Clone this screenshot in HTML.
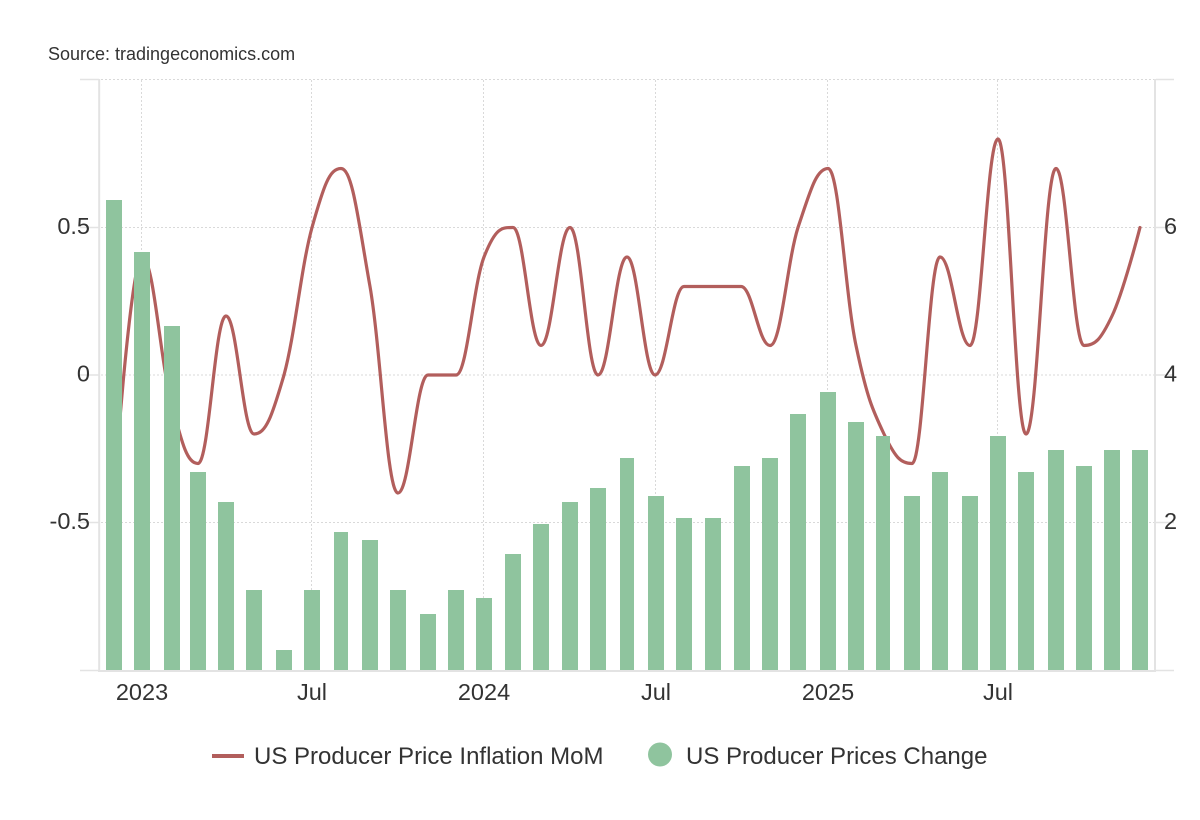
<!DOCTYPE html>
<html>
<head>
<meta charset="utf-8">
<style>
  html, body { margin: 0; padding: 0; background: #ffffff; }
  svg { display: block; }
  text { font-family: "Liberation Sans", Arial, sans-serif; fill: #333333; }
</style>
</head>
<body>
<svg width="1200" height="820" viewBox="0 0 1200 820" xmlns="http://www.w3.org/2000/svg">
  <rect x="0" y="0" width="1200" height="820" fill="#ffffff"/>

  <!-- Source -->
  <text x="48" y="60" font-size="18" fill="#444444">Source: tradingeconomics.com</text>

  <!-- horizontal dotted gridlines -->
  <g stroke="#d9d9d9" stroke-width="1" stroke-dasharray="2,2" fill="none">
    <line x1="101" y1="79.5" x2="1154" y2="79.5"/>
    <line x1="101" y1="227.5" x2="1154" y2="227.5"/>
    <line x1="101" y1="375" x2="1154" y2="375"/>
    <line x1="101" y1="522.5" x2="1154" y2="522.5"/>
  </g>
  <!-- vertical dotted gridlines -->
  <g stroke="#d9d9d9" stroke-width="1" stroke-dasharray="2,2" fill="none">
    <line x1="141.5" y1="80" x2="141.5" y2="670"/>
    <line x1="311.5" y1="80" x2="311.5" y2="670"/>
    <line x1="483.5" y1="80" x2="483.5" y2="670"/>
    <line x1="655.5" y1="80" x2="655.5" y2="670"/>
    <line x1="827.5" y1="80" x2="827.5" y2="670"/>
    <line x1="997.5" y1="80" x2="997.5" y2="670"/>
  </g>

  <!-- tick marks -->
  <g stroke="#e3e3e3" stroke-width="1.5" fill="none">
    <line x1="80" y1="79.5" x2="99" y2="79.5"/>
    <line x1="80" y1="227.5" x2="99" y2="227.5"/>
    <line x1="80" y1="375" x2="99" y2="375"/>
    <line x1="80" y1="522.5" x2="99" y2="522.5"/>
    <line x1="80" y1="670.5" x2="99" y2="670.5"/>
    <line x1="1156" y1="79.5" x2="1174" y2="79.5"/>
    <line x1="1156" y1="227.5" x2="1174" y2="227.5"/>
    <line x1="1156" y1="375" x2="1174" y2="375"/>
    <line x1="1156" y1="522.5" x2="1174" y2="522.5"/>
    <line x1="1156" y1="670.5" x2="1174" y2="670.5"/>
  </g>

  <!-- MoM spline line -->
  <path fill="none" stroke="#b25e5c" stroke-width="3.2" stroke-linejoin="round" stroke-linecap="round"
    d="M 114 493
       C 114 493, 130.8 257, 142 257
       C 154 257, 160 363.2, 172 404.5
       C 182.4 445.8, 187.6 463.5, 198 463.5
       C 209.2 463.5, 214.8 316, 226 316
       C 237.2 316, 242.8 434, 254 434
       C 266 434, 272 416.3, 284 375
       C 295.2 333.7, 300.8 268.8, 312 227.5
       C 323.6 186.2, 329.4 168.5, 341 168.5
       C 352.6 168.5, 358.4 221.6, 370 286.5
       C 381.2 351.4, 386.8 493, 398 493
       C 410 493, 416 375, 428 375
       C 439.2 375, 444.8 375, 456 375
       C 467.2 375, 472.8 286.5, 484 257
       C 495.6 227.5, 501.4 227.5, 513 227.5
       C 524.2 227.5, 529.8 345.5, 541 345.5
       C 552.6 345.5, 558.4 227.5, 570 227.5
       C 581.2 227.5, 586.8 375, 598 375
       C 609.6 375, 615.4 257, 627 257
       C 638.2 257, 643.8 375, 655 375
       C 666.6 375, 672.4 286.5, 684 286.5
       C 695.6 286.5, 701.4 286.5, 713 286.5
       C 724.2 286.5, 729.8 286.5, 741 286.5
       C 752.6 286.5, 758.4 345.5, 770 345.5
       C 781.2 345.5, 786.8 262.9, 798 227.5
       C 810 192.1, 816 168.5, 828 168.5
       C 839.2 168.5, 844.8 292.4, 856 345.5
       C 867.2 398.6, 872.8 410.4, 884 434
       C 895.2 457.6, 900.8 463.5, 912 463.5
       C 923.2 463.5, 928.8 257, 940 257
       C 952 257, 958 345.5, 970 345.5
       C 981.2 345.5, 986.8 139, 998 139
       C 1009.2 139, 1014.8 434, 1026 434
       C 1038 434, 1044 168.5, 1056 168.5
       C 1067.2 168.5, 1072.8 345.5, 1084 345.5
       C 1095.2 345.5, 1100.8 339.6, 1112 316
       C 1123.2 292.4, 1140 227.5, 1140 227.5"/>

  <!-- bars (drawn over the line) -->
  <g fill="#8fc49e">
    <rect x="106" y="200" width="16" height="470"/>
    <rect x="134" y="252" width="16" height="418"/>
    <rect x="164" y="326" width="16" height="344"/>
    <rect x="190" y="472" width="16" height="198"/>
    <rect x="218" y="502" width="16" height="168"/>
    <rect x="246" y="590" width="16" height="80"/>
    <rect x="276" y="650" width="16" height="20"/>
    <rect x="304" y="590" width="16" height="80"/>
    <rect x="334" y="532" width="14" height="138"/>
    <rect x="362" y="540" width="16" height="130"/>
    <rect x="390" y="590" width="16" height="80"/>
    <rect x="420" y="614" width="16" height="56"/>
    <rect x="448" y="590" width="16" height="80"/>
    <rect x="476" y="598" width="16" height="72"/>
    <rect x="505" y="554" width="16" height="116"/>
    <rect x="533" y="524" width="16" height="146"/>
    <rect x="562" y="502" width="16" height="168"/>
    <rect x="590" y="488" width="16" height="182"/>
    <rect x="620" y="458" width="14" height="212"/>
    <rect x="648" y="496" width="16" height="174"/>
    <rect x="676" y="518" width="16" height="152"/>
    <rect x="705" y="518" width="16" height="152"/>
    <rect x="734" y="466" width="16" height="204"/>
    <rect x="762" y="458" width="16" height="212"/>
    <rect x="790" y="414" width="16" height="256"/>
    <rect x="820" y="392" width="16" height="278"/>
    <rect x="848" y="422" width="16" height="248"/>
    <rect x="876" y="436" width="14" height="234"/>
    <rect x="904" y="496" width="16" height="174"/>
    <rect x="932" y="472" width="16" height="198"/>
    <rect x="962" y="496" width="16" height="174"/>
    <rect x="990" y="436" width="16" height="234"/>
    <rect x="1018" y="472" width="16" height="198"/>
    <rect x="1048" y="450" width="16" height="220"/>
    <rect x="1076" y="466" width="16" height="204"/>
    <rect x="1104" y="450" width="16" height="220"/>
    <rect x="1132" y="450" width="16" height="220"/>
  </g>

  <!-- axis lines -->
  <g stroke="#e3e3e3" stroke-width="2" fill="none">
    <line x1="99.2" y1="79" x2="99.2" y2="672"/>
    <line x1="1155" y1="79" x2="1155" y2="672"/>
    <line x1="98" y1="671" x2="1156" y2="671"/>
  </g>

  <!-- left y labels -->
  <g font-size="23.5" text-anchor="end">
    <text x="90" y="234">0.5</text>
    <text x="90" y="381.5">0</text>
    <text x="90" y="529">-0.5</text>
  </g>
  <!-- right y labels -->
  <g font-size="23.5" text-anchor="start">
    <text x="1164" y="234">6</text>
    <text x="1164" y="381.5">4</text>
    <text x="1164" y="529">2</text>
  </g>
  <!-- x labels -->
  <g font-size="23.5" text-anchor="middle">
    <text x="142" y="700">2023</text>
    <text x="312" y="700">Jul</text>
    <text x="484" y="700">2024</text>
    <text x="656" y="700">Jul</text>
    <text x="828" y="700">2025</text>
    <text x="998" y="700">Jul</text>
  </g>

  <!-- legend -->
  <line x1="212" y1="756" x2="244" y2="756" stroke="#b25e5c" stroke-width="4"/>
  <text x="254" y="764" font-size="24">US Producer Price Inflation MoM</text>
  <circle cx="660" cy="754.5" r="12" fill="#8fc49e"/>
  <text x="686" y="764" font-size="24">US Producer Prices Change</text>
</svg>
</body>
</html>
